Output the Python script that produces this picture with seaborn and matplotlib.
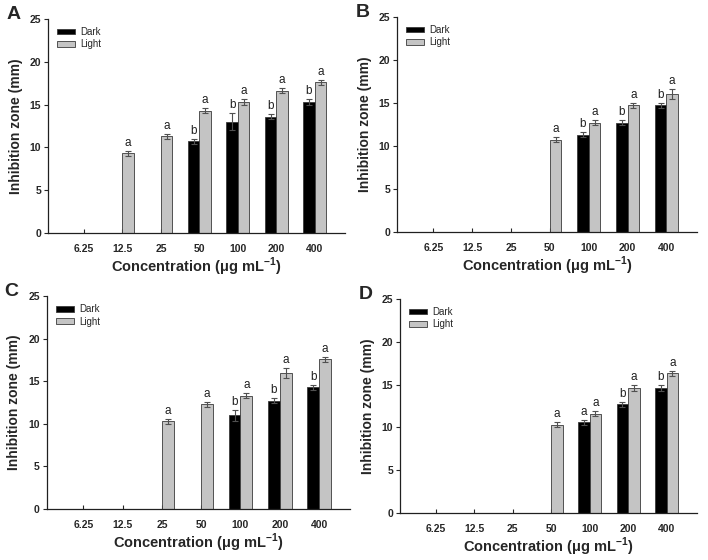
import numpy as np
import pandas as pd
import seaborn as sns
import matplotlib
matplotlib.use("Agg")
import matplotlib.pyplot as plt

conc = ["6.25", "12.5", "25", "50", "100", "200", "400"]

# panel data: None = no inhibition zone
dark_A = [None, None, None, 10.7, 13.0, 13.6, 15.3]
dark_A_err = [0, 0, 0, 0.3, 1.0, 0.3, 0.3]
light_A = [None, 9.3, 11.3, 14.3, 15.3, 16.6, 17.6]
light_A_err = [0, 0.3, 0.3, 0.3, 0.3, 0.3, 0.3]
dark_A_let = [None, None, None, "b", "b", "b", "b"]
light_A_let = [None, "a", "a", "a", "a", "a", "a"]

dark_B = [None, None, None, None, 11.3, 12.7, 14.7]
dark_B_err = [0, 0, 0, 0, 0.3, 0.3, 0.3]
light_B = [None, None, None, 10.7, 12.7, 14.7, 16.0]
light_B_err = [0, 0, 0, 0.3, 0.3, 0.3, 0.6]
dark_B_let = [None, None, None, None, "b", "b", "b"]
light_B_let = [None, None, None, "a", "a", "a", "a"]

dark_C = [None, None, None, None, 11.0, 12.7, 14.3]
dark_C_err = [0, 0, 0, 0, 0.6, 0.3, 0.3]
light_C = [None, None, 10.3, 12.3, 13.3, 16.0, 17.6]
light_C_err = [0, 0, 0.3, 0.3, 0.3, 0.6, 0.3]
dark_C_let = [None, None, None, None, "b", "b", "b"]
light_C_let = [None, None, "a", "a", "a", "a", "a"]

dark_D = [None, None, None, None, 10.6, 12.7, 14.6]
dark_D_err = [0, 0, 0, 0, 0.3, 0.3, 0.3]
light_D = [None, None, None, 10.3, 11.6, 14.6, 16.3]
light_D_err = [0, 0, 0, 0.3, 0.3, 0.3, 0.3]
dark_D_let = [None, None, None, None, "a", "b", "b"]
light_D_let = [None, None, None, "a", "a", "a", "a"]

panels = [
    ("A", dark_A, dark_A_err, light_A, light_A_err, dark_A_let, light_A_let, [0.068, 0.584, 0.419, 0.382]),
    ("B", dark_B, dark_B_err, light_B, light_B_err, dark_B_let, light_B_let, [0.561, 0.586, 0.423, 0.384]),
    ("C", dark_C, dark_C_err, light_C, light_C_err, dark_C_let, light_C_let, [0.066, 0.091, 0.428, 0.380]),
    ("D", dark_D, dark_D_err, light_D, light_D_err, dark_D_let, light_D_let, [0.565, 0.084, 0.419, 0.382]),
]

sns.set_style("ticks")
plt.rcParams["font.family"] = ["Liberation Sans", "DejaVu Sans"]
plt.rcParams["mathtext.fontset"] = "custom"
plt.rcParams["mathtext.rm"] = "Liberation Sans"
plt.rcParams["mathtext.bf"] = "Liberation Sans:bold"

fig = plt.figure(figsize=(7.08, 5.6), dpi=100)

for letter, dk, dk_err, lt, lt_err, dk_let, lt_let, pos in panels:
    ax = fig.add_axes(pos)
    rows = []
    for i, c in enumerate(conc):
        if dk[i] is not None:
            rows.append({"conc": c, "zone": dk[i], "cond": "Dark", "err": dk_err[i], "let": dk_let[i]})
        if lt[i] is not None:
            rows.append({"conc": c, "zone": lt[i], "cond": "Light", "err": lt_err[i], "let": lt_let[i]})
    df = pd.DataFrame(rows)

    sns.barplot(data=df, x="conc", y="zone", hue="cond", order=conc,
                hue_order=["Dark", "Light"], palette=["#000000", "#c4c4c4"],
                width=0.6, gap=0, errorbar=None, edgecolor="#3a3a3a",
                linewidth=0.6, ax=ax)

    for cont, cond in zip(ax.containers, ["Dark", "Light"]):
        sub = df[df["cond"] == cond]
        for bar in cont:
            h = bar.get_height()
            if not np.isfinite(h):
                continue
            x = bar.get_x() + bar.get_width() / 2
            c = conc[int(round(x))]
            r = sub[sub["conc"] == c].iloc[0]
            ax.errorbar(x, h, yerr=r["err"], fmt="none", ecolor="#505050",
                        elinewidth=0.8, capsize=2.5, capthick=0.8)
            ax.text(x, h + r["err"] + 0.25, r["let"], ha="center", va="bottom",
                    fontsize=8.5, color="#202020")

    ax.set_xlim(-0.93, 6.78)
    ax.set_ylim(0, 25)
    ax.set_yticks([0, 5, 10, 15, 20, 25])
    sns.despine(ax=ax)
    ax.tick_params(axis="y", direction="out", length=3, width=0.8, labelsize=7.5, pad=2)
    ax.tick_params(axis="x", direction="in", length=3, width=0.8, labelsize=7.5, pad=8)
    for t in ax.get_xticklabels() + ax.get_yticklabels():
        t.set_fontweight("bold")
    for s in ["left", "bottom"]:
        ax.spines[s].set_linewidth(0.9)
        ax.spines[s].set_color("#202020")
    ax.set_ylabel("Inhibition zone (mm)", fontsize=10, fontweight="bold", labelpad=5)
    ax.set_xlabel(r"Concentration (μg mL$^{\mathbf{-1}}$)", fontsize=10.5,
                  fontweight="bold", labelpad=1)

    handles, labels = ax.get_legend_handles_labels()
    ax.legend(handles, labels, loc="upper left", bbox_to_anchor=(0.01, 0.99),
              frameon=False, fontsize=7, handlelength=1.9, handleheight=0.5,
              handletextpad=0.5, labelspacing=0.25, borderaxespad=0.2)

    ax.text(-0.14, 1.02, letter, transform=ax.transAxes, fontsize=14,
            fontweight="bold", ha="left", va="center")

fig.savefig("out.png", dpi=100)
